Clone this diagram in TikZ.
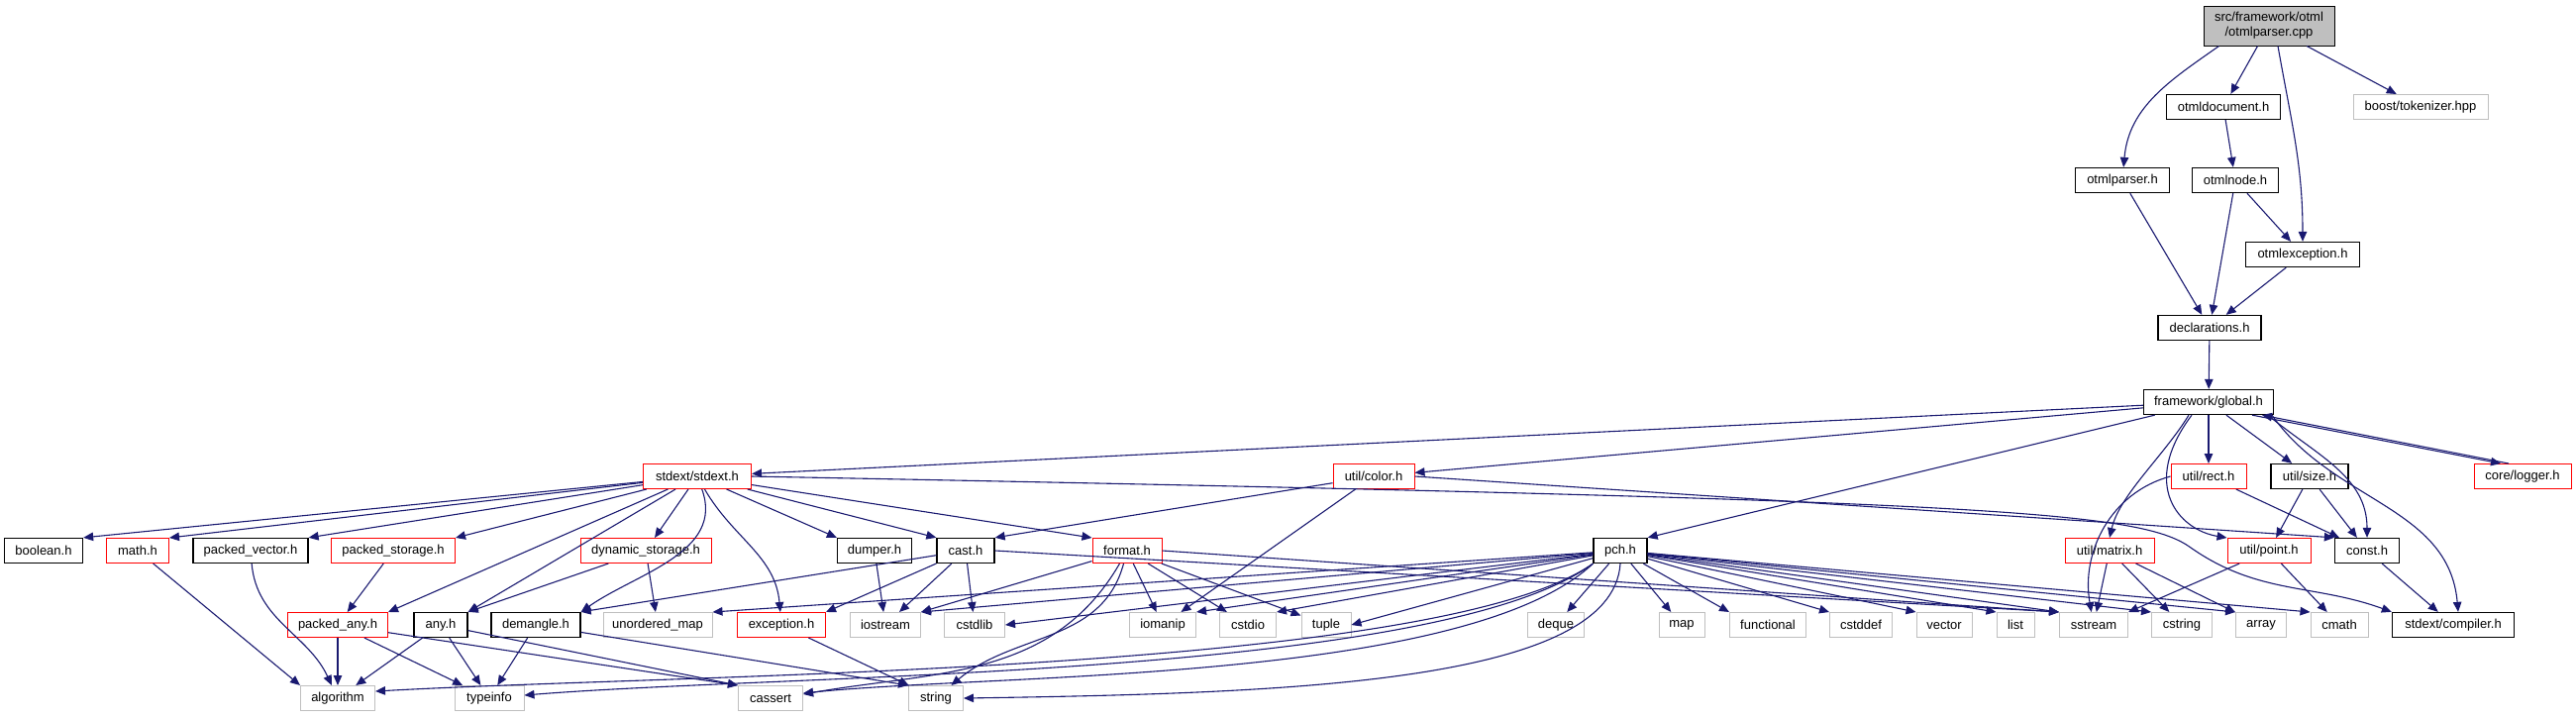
\documentclass[tikz,border=0pt]{standalone}
\usepackage{fontspec}
\setmainfont{Liberation Sans}
\usetikzlibrary{arrows.meta}
\definecolor{edgeblue}{RGB}{25,25,112}
\definecolor{extgray}{RGB}{191,191,191}

\begin{document}
\begin{tikzpicture}[x=1pt,y=1pt,
  hbox/.style={font=\fontsize{13}{15}\selectfont, minimum height=25pt, inner sep=0pt, fill=white, line width=1pt},
  srcfile/.style={hbox, draw=black, fill=extgray},
  hdoc/.style={hbox, draw=black, line width=1.3pt},
  hpart/.style={hbox, draw=red},
  hext/.style={hbox, draw=extgray},
  dep/.style={draw=edgeblue, line width=1.1pt, -{Triangle[length=10pt,width=8.5pt]}}]
\useasboundingbox (0,0) rectangle (2601,-724);

% otml files
\node[srcfile, minimum width=132pt, minimum height=40pt, align=center] (root) at (2291,-26) {src/framework/otml\\/otmlparser.cpp};
\node[hdoc, minimum width=115pt] (otmldoc) at (2245,-108) {otmldocument.h};
\node[hext, minimum width=136pt] (tokenizer) at (2444,-108) {boost/tokenizer.hpp};
\node[hdoc, minimum width=95pt] (otmlparser) at (2143,-182) {otmlparser.h};
\node[hdoc, minimum width=87pt] (otmlnode) at (2257,-182) {otmlnode.h};
\node[hdoc, minimum width=115pt] (otmlexc) at (2325,-257) {otmlexception.h};
\node[hdoc, minimum width=104pt] (decl) at (2231,-331) {declarations.h};
\node[hdoc, minimum width=131pt] (global) at (2230,-406) {framework/global.h};

% row under global.h
\node[hpart, minimum width=109pt] (stdext) at (704,-481) {stdext/stdext.h};
\node[hpart, minimum width=82pt] (color) at (1387,-481) {util/color.h};
\node[hpart, minimum width=76pt] (rect) at (2230,-481) {util/rect.h};
\node[hdoc, minimum width=78pt] (size) at (2332,-481) {util/size.h};
\node[hpart, minimum width=98pt] (logger) at (2547,-481) {core/logger.h};

% stdext headers
\node[hdoc, minimum width=79pt] (boolean) at (44,-556) {boolean.h};
\node[hpart, minimum width=63pt] (math) at (139,-556) {math.h};
\node[hdoc, minimum width=116pt] (pvector) at (253,-556) {packed\_vector.h};
\node[hpart, minimum width=125pt] (pstorage) at (397,-556) {packed\_storage.h};
\node[hpart, minimum width=132pt] (dynstorage) at (652,-556) {dynamic\_storage.h};
\node[hdoc, minimum width=75pt] (dumper) at (883,-556) {dumper.h};
\node[hdoc, minimum width=58pt] (cast) at (975,-556) {cast.h};
\node[hpart, minimum width=70pt] (format) at (1138,-556) {format.h};
\node[hdoc, minimum width=54pt] (pch) at (1636,-556) {pch.h};
\node[hpart, minimum width=90pt] (matrix) at (2130,-556) {util/matrix.h};
\node[hpart, minimum width=84pt] (point) at (2291,-556) {util/point.h};
\node[hdoc, minimum width=65pt] (const) at (2390,-556) {const.h};

\node[hpart, minimum width=101pt] (packedany) at (341,-631) {packed\_any.h};
\node[hdoc, minimum width=54pt] (any) at (445,-631) {any.h};
\node[hdoc, minimum width=90pt] (demangle) at (541,-631) {demangle.h};
\node[hext, minimum width=110pt] (umap) at (664,-631) {unordered\_map};
\node[hpart, minimum width=89pt] (exception) at (789,-631) {exception.h};
\node[hdoc, minimum width=123pt] (compiler) at (2477,-631) {stdext/compiler.h};

% system headers
\node[hext, minimum width=71pt] (iostream) at (894,-631) {iostream};
\node[hext, minimum width=61pt] (cstdlib) at (984,-631) {cstdlib};
\node[hext, minimum width=67pt] (iomanip) at (1174,-631) {iomanip};
\node[hext, minimum width=57pt] (cstdio) at (1260,-631) {cstdio};
\node[hext, minimum width=50pt] (tuple) at (1339,-631) {tuple};
\node[hext, minimum width=57pt] (deque) at (1571,-631) {deque};
\node[hext, minimum width=46pt] (map) at (1698,-631) {map};
\node[hext, minimum width=77pt] (functional) at (1785,-631) {functional};
\node[hext, minimum width=63pt] (cstddef) at (1879,-631) {cstddef};
\node[hext, minimum width=56pt] (vector) at (1963,-631) {vector};
\node[hext, minimum width=38pt] (list) at (2035,-631) {list};
\node[hext, minimum width=69pt] (sstream) at (2114,-631) {sstream};
\node[hext, minimum width=61pt] (cstring) at (2203,-631) {cstring};
\node[hext, minimum width=51pt] (array) at (2283,-631) {array};
\node[hext, minimum width=58pt] (cmath) at (2362,-631) {cmath};
\node[hext, minimum width=75pt] (algorithm) at (341,-705) {algorithm};
\node[hext, minimum width=70pt] (typeinfo) at (494,-705) {typeinfo};
\node[hext, minimum width=65pt] (cassert) at (778,-705) {cassert};
\node[hext, minimum width=55pt] (string) at (945,-705) {string};

% otml includes
\draw[dep] ([xshift=16pt]root.south west) to[out=-145,in=85] (otmlparser);
\draw[dep] (root) -- (otmldoc);
\draw[dep] ([xshift=9pt]root.south) to[out=-80,in=90] (otmlexc);
\draw[dep] (root) -- (tokenizer);
\draw[dep] (otmldoc) -- (otmlnode);
\draw[dep] (otmlnode) -- (decl);
\draw[dep] (otmlnode) -- (otmlexc);
\draw[dep] (otmlparser) -- (decl);
\draw[dep] (otmlexc) -- (decl);
\draw[dep] (decl) -- (global);

% global.h
\draw[dep] (global) -- (stdext);
\draw[dep] (global) -- (color);
\draw[dep] (global) -- (pch.north east);
\draw[dep] ([xshift=-20pt]global.south) .. controls (2185,-460) and (2140,-500) .. (matrix.north);
\draw[dep] ([xshift=-17pt]global.south) .. controls (2160,-490) and (2200,-535) .. (point.north west);
\draw[dep] (global) -- (rect);
\draw[dep] (global) -- (size);
\draw[dep] ([xshift=60pt]global.south) to[out=-40,in=90] (const);
\draw[dep] ([xshift=64pt]global.south) to[out=-55,in=95] ([xshift=5pt]compiler.north);
\draw[dep] ([xshift=44pt]global.south) -- ([xshift=-22pt]logger.north);
\draw[dep] ([xshift=-14pt]logger.north) -- ([xshift=54pt]global.south);

% stdext.h
\draw[dep] (stdext) -- (boolean.north east);
\draw[dep] (stdext) -- (math.north east);
\draw[dep] (stdext) -- (pvector.north east);
\draw[dep] (stdext) -- (pstorage.north east);
\draw[dep] (stdext) -- (packedany.north east);
\draw[dep] (stdext) -- (any.north east);
\draw[dep] (stdext) -- (dynstorage);
\draw[dep] (stdext) to[out=-70,in=35] (demangle.north east);
\draw[dep] (stdext) to[out=-60,in=95] (exception);
\draw[dep] (stdext) -- (dumper.north west);
\draw[dep] (stdext) -- (cast.north west);
\draw[dep] (stdext) -- (format.north west);
\draw[dep] (stdext.east) .. controls (2000,-505) and (2160,-515) .. (2212,-553) to[out=-35,in=160] (compiler.north west);

% util headers
\draw[dep] (color) -- (cast.north east);
\draw[dep] (color) -- (iomanip);
\draw[dep] (color.east) -- (const.north west);
\draw[dep] (rect.west) to[out=195,in=100] (sstream);
\draw[dep] (rect) -- (const);
\draw[dep] (size) -- (point);
\draw[dep] (size) -- (const);
\draw[dep] (matrix) -- (sstream);
\draw[dep] (matrix) -- (cstring);
\draw[dep] (matrix) -- (array);
\draw[dep] (point) -- (sstream.north east);
\draw[dep] (point) -- (cmath);
\draw[dep] (const) -- (compiler);

% stdext internals
\draw[dep] (math) -- (algorithm.north west);
\draw[dep] (pvector) to[out=-85,in=115] (algorithm);
\draw[dep] (pstorage) -- (packedany);
\draw[dep] (dynstorage) -- (any.north east);
\draw[dep] (dynstorage) -- (umap);
\draw[dep] (packedany) -- (algorithm);
\draw[dep] (packedany) -- (typeinfo);
\draw[dep] (packedany) -- (cassert.north west);
\draw[dep] (any) -- (algorithm);
\draw[dep] (any) -- (typeinfo);
\draw[dep] (any) -- (cassert.north west);
\draw[dep] (demangle) -- (typeinfo);
\draw[dep] (demangle) -- (string.north west);
\draw[dep] (exception) -- (string);
\draw[dep] (dumper) -- (iostream);
\draw[dep] (cast) -- (demangle.north east);
\draw[dep] (cast) -- (exception.north east);
\draw[dep] (cast) -- (iostream);
\draw[dep] (cast) -- (cstdlib);
\draw[dep] (cast.east) -- (sstream.north west);
\draw[dep] (format) -- (iostream.north east);
\draw[dep] (format) to[out=-120,in=10] ([yshift=4pt]cassert.east);
\draw[dep] (format) to[out=-105,in=40] (string);
\draw[dep] (format) -- (iomanip);
\draw[dep] (format) -- (cstdio);
\draw[dep] (format) -- (tuple);
\draw[dep] (format.east) -- (sstream.north west);

% pch.h
\draw[dep] (pch) -- (iostream.north east);
\draw[dep] (pch) -- (cstdlib.east);
\draw[dep] (pch) -- (iomanip.north east);
\draw[dep] (pch) -- (cstdio.north east);
\draw[dep] (pch) -- (tuple.east);
\draw[dep] (pch) -- (umap.north east);
\draw[dep] (pch.south) .. controls (1628,-690) and (1300,-700) .. (string.east);
\draw[dep] (pch.south west) .. controls (1480,-690) and (1000,-680) .. ([yshift=5pt]cassert.east);
\draw[dep] (pch.south west) .. controls (1450,-685) and (800,-680) .. ([yshift=3pt]typeinfo.east);
\draw[dep] (pch.south west) .. controls (1450,-680) and (700,-680) .. ([yshift=7pt]algorithm.east);
\draw[dep] (pch) -- (deque);
\draw[dep] (pch) -- (map);
\draw[dep] (pch) -- (functional.north west);
\draw[dep] (pch) -- (cstddef.north west);
\draw[dep] (pch) -- (vector.north west);
\draw[dep] (pch) -- (list.north west);
\draw[dep] (pch) -- (sstream.north west);
\draw[dep] (pch) -- (cstring.north west);
\draw[dep] (pch) -- (array.north west);
\draw[dep] (pch) -- (cmath.north west);
\end{tikzpicture}
\end{document}
